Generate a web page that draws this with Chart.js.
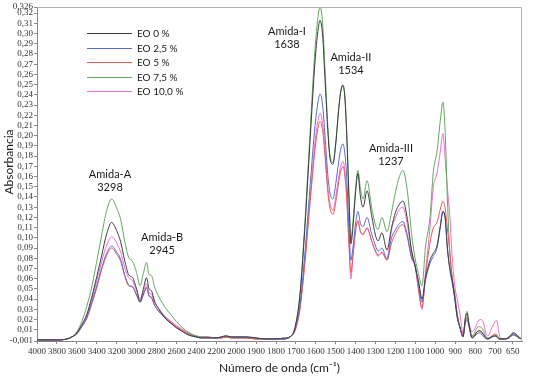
<!DOCTYPE html>
<html>
<head>
<meta charset="utf-8">
<script src="https://cdn.jsdelivr.net/npm/chart.js@4.4.0/dist/chart.umd.min.js"></script>
<style>
  body { margin: 0; background: #fff; }
  #wrap { width: 533px; height: 376px; }
</style>
</head>
<body>
<div id="wrap"><canvas id="ftir"></canvas></div>
<script>
// wavenumbers (cm-1)
const wavenumbers = [
  4000, 3900, 3800, 3700, 3650, 3600, 3550, 3500, 3450, 3400,
  3350, 3300, 3250, 3200, 3160, 3120, 3080, 3040, 3000, 2965,
  2930, 2900, 2875, 2850, 2820, 2780, 2740, 2700, 2650, 2600,
  2550, 2500, 2450, 2400, 2350, 2300, 2200, 2150, 2100, 2050,
  2000, 1950, 1900, 1850, 1800, 1760, 1730, 1705, 1680, 1655,
  1630, 1604, 1590, 1579, 1566, 1554, 1540, 1529, 1514, 1500,
  1485, 1474, 1464, 1454, 1444, 1434, 1424, 1414, 1400, 1389,
  1376, 1363, 1343, 1320, 1300, 1288, 1268, 1243, 1220, 1200,
  1180, 1163, 1140, 1120, 1102, 1085, 1067, 1050, 1027, 1010,
  992, 975, 962, 950, 940, 927, 915, 902, 890, 876,
  861, 850, 841, 830, 816, 800, 791, 776, 761, 745,
  736, 716, 700, 691, 680, 665, 651, 630, 610, 595,
  580, 565
];

const eo0 = [
  0, 0, 0, 0.001, 0.003, 0.007, 0.015, 0.025, 0.042, 0.062,
  0.083, 0.104, 0.115, 0.107, 0.096, 0.078, 0.064, 0.061, 0.050, 0.038,
  0.051, 0.061, 0.050, 0.048, 0.038, 0.031, 0.025, 0.020, 0.016, 0.012,
  0.009, 0.006, 0.004, 0.003, 0.002, 0.002, 0.002, 0.003, 0.004, 0.003,
  0.003, 0.003, 0.002, 0.001, 0.001, 0.002, 0.003, 0.012, 0.043, 0.110,
  0.192, 0.273, 0.302, 0.313, 0.298, 0.255, 0.205, 0.178, 0.172, 0.192,
  0.226, 0.244, 0.249, 0.236, 0.195, 0.140, 0.094, 0.110, 0.145, 0.163,
  0.140, 0.130, 0.146, 0.122, 0.102, 0.097, 0.105, 0.088, 0.110, 0.125,
  0.133, 0.136, 0.118, 0.088, 0.072, 0.058, 0.040, 0.060, 0.078, 0.085,
  0.092, 0.112, 0.126, 0.118, 0.090, 0.070, 0.058, 0.040, 0.022, 0.012,
  0.003, 0.020, 0.026, 0.014, 0.002, 0.005, 0.008, 0.009, 0.006, 0.002,
  0.001, 0.003, 0.004, 0.003, 0.001, 0.001, 0.001, 0.003, 0.007, 0.006,
  0.002, 0.001
];
const eo25 = [
  0, 0, 0, 0.001, 0.003, 0.006, 0.013, 0.022, 0.037, 0.053,
  0.071, 0.085, 0.092, 0.086, 0.079, 0.064, 0.054, 0.052, 0.044, 0.037,
  0.045, 0.051, 0.043, 0.041, 0.034, 0.028, 0.024, 0.020, 0.016, 0.012,
  0.009, 0.006, 0.004, 0.003, 0.002, 0.002, 0.002, 0.003, 0.004, 0.003,
  0.003, 0.003, 0.002, 0.001, 0.001, 0.001, 0.003, 0.010, 0.034, 0.085,
  0.148, 0.210, 0.232, 0.241, 0.230, 0.200, 0.162, 0.144, 0.138, 0.153,
  0.175, 0.188, 0.192, 0.182, 0.155, 0.110, 0.078, 0.090, 0.115, 0.126,
  0.114, 0.111, 0.120, 0.104, 0.092, 0.087, 0.090, 0.079, 0.100, 0.108,
  0.114, 0.116, 0.102, 0.082, 0.073, 0.055, 0.037, 0.058, 0.075, 0.082,
  0.090, 0.110, 0.126, 0.118, 0.092, 0.068, 0.055, 0.040, 0.022, 0.012,
  0.003, 0.016, 0.020, 0.012, 0.002, 0.004, 0.006, 0.007, 0.004, 0.001,
  0.001, 0.003, 0.004, 0.003, 0.001, 0.001, 0.001, 0.002, 0.005, 0.004,
  0.002, 0.001
];
const eo5 = [
  0, 0, 0, 0.001, 0.003, 0.006, 0.013, 0.021, 0.035, 0.051,
  0.069, 0.083, 0.090, 0.084, 0.077, 0.063, 0.053, 0.052, 0.044, 0.037,
  0.045, 0.052, 0.043, 0.042, 0.034, 0.029, 0.025, 0.021, 0.017, 0.013,
  0.010, 0.007, 0.005, 0.003, 0.002, 0.003, 0.002, 0.002, 0.003, 0.002,
  0.002, 0.002, 0.001, 0.001, 0.001, 0.001, 0.003, 0.009, 0.030, 0.075,
  0.132, 0.187, 0.207, 0.214, 0.205, 0.180, 0.145, 0.129, 0.123, 0.135,
  0.155, 0.166, 0.170, 0.160, 0.135, 0.095, 0.066, 0.083, 0.108, 0.116,
  0.106, 0.103, 0.110, 0.097, 0.087, 0.083, 0.086, 0.078, 0.095, 0.104,
  0.111, 0.113, 0.100, 0.080, 0.073, 0.050, 0.032, 0.062, 0.095, 0.110,
  0.115, 0.128, 0.136, 0.128, 0.110, 0.085, 0.060, 0.042, 0.025, 0.012,
  0.004, 0.018, 0.022, 0.013, 0.003, 0.006, 0.008, 0.009, 0.006, 0.002,
  0.001, 0.004, 0.005, 0.004, 0.001, 0.001, 0.001, 0.002, 0.005, 0.004,
  0.002, 0.001
];
const eo75 = [
  0, 0, 0, 0.001, 0.003, 0.008, 0.018, 0.033, 0.052, 0.077,
  0.103, 0.127, 0.138, 0.129, 0.118, 0.097, 0.081, 0.077, 0.066, 0.053,
  0.066, 0.076, 0.064, 0.063, 0.052, 0.043, 0.036, 0.030, 0.024, 0.018,
  0.013, 0.009, 0.006, 0.004, 0.003, 0.003, 0.002, 0.002, 0.003, 0.002,
  0.002, 0.002, 0.001, 0.001, 0.001, 0.001, 0.003, 0.012, 0.045, 0.115,
  0.200, 0.285, 0.315, 0.326, 0.310, 0.265, 0.210, 0.181, 0.174, 0.194,
  0.228, 0.245, 0.250, 0.238, 0.200, 0.145, 0.098, 0.115, 0.150, 0.166,
  0.148, 0.138, 0.156, 0.130, 0.112, 0.108, 0.120, 0.106, 0.125, 0.145,
  0.160, 0.166, 0.145, 0.105, 0.080, 0.065, 0.053, 0.090, 0.120, 0.165,
  0.184, 0.215, 0.233, 0.200, 0.140, 0.085, 0.060, 0.045, 0.025, 0.012,
  0.004, 0.022, 0.028, 0.015, 0.004, 0.008, 0.012, 0.013, 0.010, 0.003,
  0.002, 0.004, 0.006, 0.005, 0.002, 0.001, 0.001, 0.003, 0.006, 0.005,
  0.003, 0.001
];
const eo10 = [
  0, 0, 0, 0.001, 0.003, 0.007, 0.014, 0.024, 0.040, 0.058,
  0.077, 0.093, 0.101, 0.095, 0.086, 0.071, 0.061, 0.058, 0.048, 0.040,
  0.048, 0.055, 0.046, 0.045, 0.037, 0.031, 0.026, 0.022, 0.018, 0.014,
  0.011, 0.008, 0.005, 0.004, 0.003, 0.003, 0.002, 0.002, 0.003, 0.002,
  0.002, 0.002, 0.001, 0.001, 0.001, 0.001, 0.003, 0.009, 0.031, 0.078,
  0.137, 0.194, 0.214, 0.222, 0.212, 0.186, 0.150, 0.134, 0.127, 0.140,
  0.160, 0.171, 0.175, 0.165, 0.138, 0.095, 0.060, 0.080, 0.108, 0.117,
  0.106, 0.104, 0.109, 0.097, 0.086, 0.082, 0.085, 0.079, 0.108, 0.120,
  0.128, 0.130, 0.112, 0.088, 0.073, 0.050, 0.030, 0.065, 0.110, 0.150,
  0.163, 0.185, 0.202, 0.175, 0.150, 0.120, 0.080, 0.052, 0.040, 0.025,
  0.006, 0.018, 0.022, 0.015, 0.008, 0.012, 0.016, 0.020, 0.018, 0.006,
  0.004, 0.012, 0.018, 0.019, 0.006, 0.001, 0.001, 0.002, 0.006, 0.005,
  0.002, 0.001
];

const seriesNames = ['EO 0 %', 'EO 2,5 %', 'EO 5 %', 'EO 7,5 %', 'EO 10,0 %'];
const seriesValues = [eo0, eo25, eo5, eo75, eo10];
const seriesColors = ['#3c3c3c', '#5868d8', '#e85a50', '#5fa85a', '#ee6ccc'];

const xTickLabels = [4000, 3800, 3600, 3400, 3200, 3000, 2800, 2600, 2400, 2200, 2000,
  1900, 1800, 1700, 1600, 1500, 1400, 1300, 1200, 1100, 1000, 900, 800, 700, 650];
const yTickValues = [-0.001, 0.01, 0.02, 0.03, 0.04, 0.05, 0.06, 0.07, 0.08, 0.09, 0.10,
  0.11, 0.12, 0.13, 0.14, 0.15, 0.16, 0.17, 0.18, 0.19, 0.20, 0.21, 0.22, 0.23, 0.24,
  0.25, 0.26, 0.27, 0.28, 0.29, 0.30, 0.31, 0.32, 0.326];

const bandNames = ['Amida-A', 'Amida-B', 'Amida-I', 'Amida-II', 'Amida-III'];
const bandCodes = ['3298', '2945', '1638', '1534', '1237'];
// where the band labels sit (wavenumber, absorbance)
const bandLabelAt = [[3267, 0.162], [2744, 0.100], [1745, 0.302], [1424, 0.277], [1223, 0.188]];

// axis is compressed 2:1 above 2000 cm-1, like the original
const BREAK = 2000;
function axisPos(wn) {
  return wn >= BREAK ? (4000 - wn) / 2 : 1000 + (BREAK - wn);
}

const sans = 'Lato, "Liberation Sans", sans-serif';
const serif = '"Liberation Serif", serif';

const overlay = {
  id: 'overlay',
  afterDraw(chart) {
    const { ctx, chartArea: a, scales: { x, y } } = chart;
    ctx.save();
    // frame top + right
    ctx.strokeStyle = '#b0b0b0';
    ctx.lineWidth = 1;
    ctx.beginPath();
    ctx.moveTo(a.left, a.top + 0.5);
    ctx.lineTo(a.right - 0.5, a.top + 0.5);
    ctx.lineTo(a.right - 0.5, a.bottom);
    ctx.stroke();

    // y title, sits a little above the middle in the original
    ctx.fillStyle = '#1a1a1a';
    ctx.font = '12px ' + sans;
    ctx.textAlign = 'center';
    ctx.textBaseline = 'middle';
    ctx.save();
    ctx.translate(9, (a.top + a.bottom) / 2 - 12);
    ctx.rotate(-Math.PI / 2);
    ctx.fillText('Absorbancia', 0, 0);
    ctx.restore();

    // band labels
    ctx.font = '11px ' + sans;
    bandNames.forEach((name, i) => {
      const px = x.getPixelForValue(axisPos(bandLabelAt[i][0]));
      const py = y.getPixelForValue(bandLabelAt[i][1]);
      ctx.fillText(name, px, py);
      ctx.fillText(bandCodes[i], px, py + 13);
    });

    // legend
    ctx.font = '10px ' + sans;
    ctx.textAlign = 'left';
    seriesNames.forEach((name, i) => {
      const ly = Math.round(a.top + 26 + i * 14.5) + 0.5;
      ctx.strokeStyle = seriesColors[i];
      ctx.beginPath();
      ctx.moveTo(a.left + 50, ly);
      ctx.lineTo(a.left + 95, ly);
      ctx.stroke();
      ctx.fillText(name, a.left + 100, ly);
    });
    ctx.restore();
  }
};

new Chart(document.getElementById('ftir'), {
  type: 'line',
  data: {
    datasets: seriesNames.map((name, i) => ({
      label: name,
      data: wavenumbers.map((wn, j) => ({ x: axisPos(wn), y: seriesValues[i][j] })),
      borderColor: seriesColors[i],
      borderWidth: 1,
      pointRadius: 0,
      cubicInterpolationMode: 'monotone',
      fill: false
    }))
  },
  options: {
    responsive: true,
    maintainAspectRatio: false,
    animation: false,
    layout: { padding: { top: 7, right: 11, left: 0, bottom: 0 } },
    plugins: { legend: { display: false }, tooltip: { enabled: false } },
    scales: {
      x: {
        type: 'linear',
        min: 0,
        max: axisPos(565),
        afterBuildTicks: s => {
          // last label is pushed against the frame, as in the original
          s.ticks = xTickLabels.map(w => ({ value: w === 650 ? axisPos(612) : axisPos(w) }));
        },
        afterFit: s => { s.height = 35; },
        ticks: {
          autoSkip: false,
          maxRotation: 0,
          padding: 2,
          color: '#333',
          font: { family: serif, size: 9 },
          callback: (v, i) => String(xTickLabels[i])
        },
        grid: { drawOnChartArea: false, tickLength: 3, color: '#888' },
        border: { color: '#888' },
        title: {
          display: true,
          text: 'Número de onda (cm⁻¹)',
          color: '#1a1a1a',
          font: { family: sans, size: 12 },
          padding: { top: 0, bottom: 1 }
        }
      },
      y: {
        min: -0.001,
        max: 0.326,
        afterBuildTicks: s => { s.ticks = yTickValues.map(v => ({ value: v })); },
        afterFit: s => { s.width = 37; },
        ticks: {
          autoSkip: false,
          padding: 1,
          color: '#333',
          font: { family: serif, size: 9 },
          callback: v => {
            if (v === -0.001) return '-0,001';
            if (v === 0.326) return '0,326';
            return v.toFixed(2).replace('.', ',');
          }
        },
        grid: { drawOnChartArea: false, tickLength: 3, color: '#888' },
        border: { color: '#888' }
      }
    }
  },
  plugins: [overlay]
});
</script>
</body>
</html>
